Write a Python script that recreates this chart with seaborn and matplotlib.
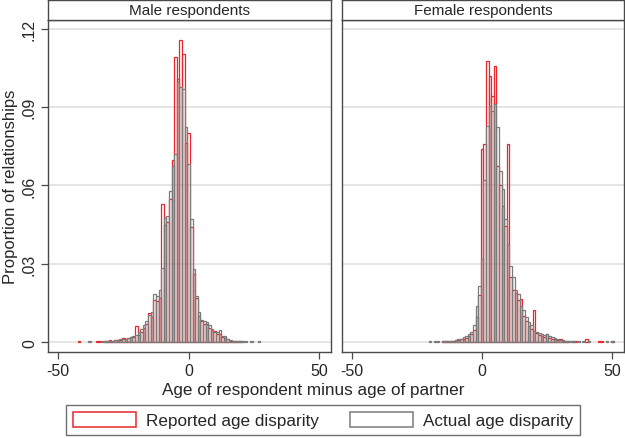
import matplotlib
matplotlib.use("Agg")
import matplotlib.pyplot as plt
from matplotlib.patches import Patch
import seaborn as sns
import pandas as pd

sns.set_style("white")
plt.rcParams['font.family'] = ['Liberation Sans', 'DejaVu Sans']

# ---------------- data ----------------
panel_titles = ["Male respondents", "Female respondents"]
series_labels = ["Reported age disparity", "Actual age disparity"]
x_ticks = [-50, 0, 50]
y_ticks = [0, 0.03, 0.06, 0.09, 0.12]
y_tick_labels = ["0", ".03", ".06", ".09", ".12"]

male_ages = list(range(-42, 29))
male_actual = [
    0, 0, 0, 0, 0.0004, 0, 0, 0, 0, 0.0004,            # -42..-33
    0.0004, 0.0005, 0.0006, 0.0006, 0.0007, 0.0008, 0.0010, 0.0012, 0.0013, 0.0016,  # -32..-23
    0.0020, 0.0024, 0.0026, 0.0037, 0.0050, 0.0066, 0.0082, 0.0102, 0.0114, 0.0184,  # -22..-13
    0.0175, 0.0200, 0.0285, 0.0474, 0.0484, 0.0580, 0.0676, 0.0721, 0.0995, 0.0976,  # -12..-3
    0.0970, 0.0823, 0.0682, 0.0471, 0.0280, 0.0178, 0.0115, 0.0085, 0.0082, 0.0078,  # -2..7
    0.0065, 0.0050, 0.0038, 0.0040, 0.0045, 0.0022, 0.0022, 0.0010, 0.0008, 0.0006,  # 8..17
    0.0004, 0.0004, 0.0004, 0.0003, 0.0003, 0, 0.0003, 0, 0, 0.0003, 0,           # 18..28
]
male_reported = [
    0.0004, 0, 0, 0, 0, 0, 0, 0.0004, 0.0004, 0,          # -42..-33
    0.0003, 0.0004, 0.0008, 0.0005, 0.0008, 0.0007, 0.0009, 0.0015, 0.0010, 0.0014,  # -32..-23
    0.0018, 0.0020, 0.0063, 0.0028, 0.0040, 0.0055, 0.0070, 0.0110, 0.0095, 0.0160,  # -22..-13
    0.0159, 0.0170, 0.0529, 0.0450, 0.0460, 0.0550, 0.0698, 0.1091, 0.1008, 0.1158,  # -12..-3
    0.1104, 0.0763, 0.0800, 0.0440, 0.0260, 0.0170, 0.0100, 0.0080, 0.0070, 0.0070,  # -2..7
    0.0055, 0.0045, 0.0042, 0.0032, 0.0030, 0.0018, 0.0015, 0.0012, 0.0006, 0.0005,  # 8..17
    0.0005, 0.0004, 0.0005, 0, 0, 0, 0, 0, 0, 0, 0,                      # 18..28
]

female_ages = list(range(-20, 51))
female_actual = [
    0.0003, 0, 0.0003, 0.0003, 0, 0.0003, 0.0004, 0.0004, 0.0005, 0.0006,   # -20..-11
    0.0007, 0.0010, 0.0013, 0.0020, 0.0024, 0.0030, 0.0040, 0.0066, 0.0137, 0.0213,  # -10..-1
    0.0318, 0.0620, 0.0827, 0.0906, 0.0887, 0.0912, 0.0823, 0.0657, 0.0587, 0.0472,  # 0..9
    0.0376, 0.0293, 0.0248, 0.0201, 0.0185, 0.0140, 0.0123, 0.0095, 0.0077, 0.0066,  # 10..19
    0.0043, 0.0040, 0.0035, 0.0030, 0.0028, 0.0030, 0.0022, 0.0018, 0.0015, 0.0012,  # 20..29
    0.0009, 0.0007, 0.0005, 0.0005, 0.0004, 0.0003, 0, 0.0003, 0, 0.0003,        # 30..39
    0, 0.0003, 0, 0, 0, 0, 0, 0, 0.0003, 0, 0.0004,                           # 40..50
]
female_reported = [
    0, 0, 0, 0, 0, 0.0004, 0.0003, 0.0003, 0.0004, 0.0004,               # -20..-11
    0.0008, 0.0007, 0.0010, 0.0013, 0.0016, 0.0025, 0.0030, 0.0045, 0.0097, 0.0180,  # -10..-1
    0.0740, 0.0759, 0.1078, 0.1018, 0.0942, 0.1057, 0.0676, 0.0600, 0.0520, 0.0444,  # 0..9
    0.0759, 0.0250, 0.0200, 0.0187, 0.0160, 0.0165, 0.0100, 0.0080, 0.0060, 0.0050,  # 10..19
    0.0123, 0.0035, 0.0028, 0.0022, 0.0020, 0.0030, 0.0015, 0.0012, 0.0010, 0.0008,  # 20..29
    0.0012, 0.0004, 0.0004, 0.0003, 0, 0.0004, 0.0004, 0, 0, 0,              # 30..39
    0.0010, 0, 0, 0, 0, 0.0004, 0.0004, 0, 0, 0, 0.0006,                     # 40..50
]

RED = "#e8262c"
GRAY = "#7a7a7a"
FRAME = "#4a4a4a"
GRID = "#dedede"

W, H = 625, 439
fig = plt.figure(figsize=(W / 100, H / 100), dpi=100)


def fx(px):
    return px / W


def fy(py):
    return 1 - py / H


panels = [
    (48, 331, male_ages, male_reported, male_actual),
    (342, 624, female_ages, female_reported, female_actual),
]
ax_top, ax_bot = 21, 353

for i, (x0, x1, ages, rep, act) in enumerate(panels):
    ax = fig.add_axes([fx(x0), fy(ax_bot), fx(x1 - x0), (ax_bot - ax_top) / H])
    for y in y_ticks:
        ax.axhline(y, color=GRID, lw=1.1, zorder=0)
    for vals, col in [(rep, RED), (act, GRAY)]:
        df = pd.DataFrame({"age": ages, "prop": vals})
        df = df[df["prop"] > 0]
        n0 = len(ax.patches)
        sns.histplot(data=df, x="age", weights="prop", discrete=True, fill=False,
                     color=col, linewidth=0.9, ax=ax, stat="count")
        for p in list(ax.patches[n0:]):
            if p.get_height() <= 0:
                p.remove()
    ax.set_xlim(-53.8, 54.5)
    ax.set_ylim(-0.0038, 0.1234)
    ax.set_xlabel("")
    ax.set_ylabel("")
    ax.set_xticks(x_ticks)
    ax.set_xticklabels([str(t) for t in x_ticks], fontsize=11.5)
    if i == 0:
        ax.set_yticks(y_ticks)
        ax.set_yticklabels(y_tick_labels, fontsize=11.5, rotation=90, va="center")
    else:
        ax.set_yticks([])
    ax.tick_params(axis="both", direction="out", length=5, width=0.9, color=FRAME,
                   pad=3, left=(i == 0), bottom=True)
    for s in ax.spines.values():
        s.set_color(FRAME)
        s.set_linewidth(1.0)
        s.set_visible(True)
    ax.grid(False)

    # strip
    sax = fig.add_axes([fx(x0), fy(ax_top), fx(x1 - x0), (ax_top - 0.7) / H])
    sax.set_xticks([])
    sax.set_yticks([])
    for s in sax.spines.values():
        s.set_color(FRAME)
        s.set_linewidth(1.0)
    sax.text(0.5, 0.48, panel_titles[i], ha="center", va="center", fontsize=11,
             transform=sax.transAxes)

fig.text(fx(11), fy(187), "Proportion of relationships", rotation=90,
         ha="center", va="center", fontsize=12)
fig.text(fx(313), fy(391), "Age of respondent minus age of partner",
         ha="center", va="center", fontsize=12.3)

handles = [Patch(facecolor="none", edgecolor=RED, linewidth=1.1),
           Patch(facecolor="none", edgecolor=GRAY, linewidth=1.1)]
leg = fig.legend(handles, series_labels, loc="center", ncol=2,
                 bbox_to_anchor=(fx(323), fy(421)), fontsize=12.3,
                 frameon=True, fancybox=False, edgecolor=FRAME,
                 handlelength=3.7, handleheight=1.0, handletextpad=0.6,
                 columnspacing=1.8, borderpad=0.4)
leg.get_frame().set_linewidth(1.0)

fig.savefig("out.png", dpi=100)
